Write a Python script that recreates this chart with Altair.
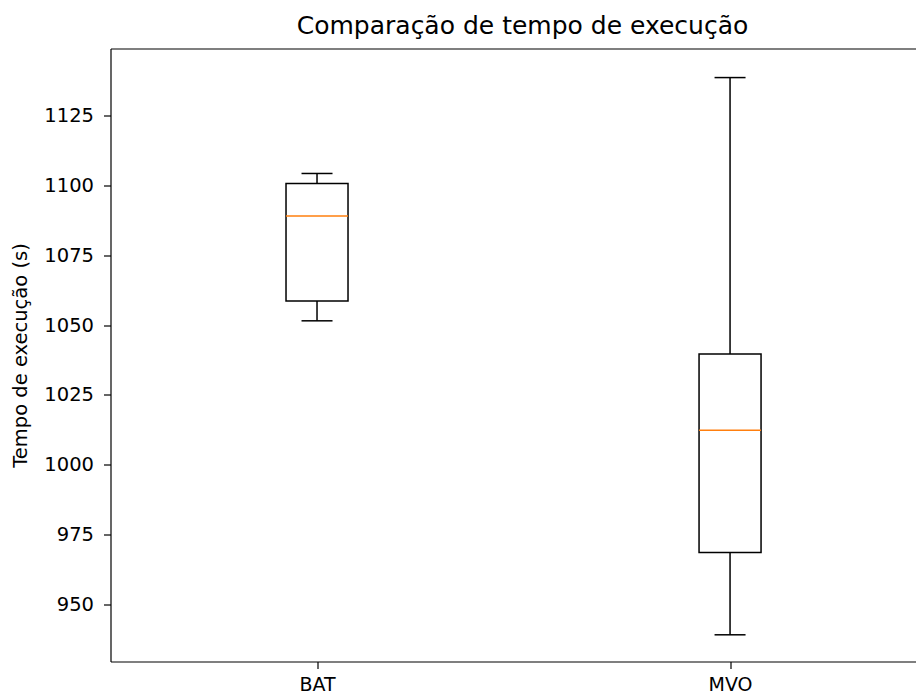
import json
import altair as alt
import pandas as pd

groups = ["BAT", "MVO"]
positions = [1, 2]
whisker_low = [1051.5, 939.2]
q1 = [1058.6, 968.6]
median = [1089.0, 1012.4]
q3 = [1100.6, 1039.6]
whisker_high = [1104.2, 1138.5]

y_ticks = [950, 975, 1000, 1025, 1050, 1075, 1100, 1125]
y_domain = [929.65, 1148.9]
x_domain = [0.5, 2.449]

df = pd.DataFrame({
    "group": groups, "pos": positions, "wlo": whisker_low, "q1": q1,
    "med": median, "q3": q3, "whi": whisker_high,
})

FONT = "DejaVu Sans"
label_expr = json.dumps(groups) + "[datum.value - 1]"

xscale = alt.Scale(domain=x_domain, nice=False, zero=False, padding=0)
x = alt.X("pos:Q", scale=xscale,
          axis=alt.Axis(values=positions, labelExpr=label_expr, title=None,
                        labelPadding=7, labelFontSize=19))
yscale = alt.Scale(domain=y_domain, nice=False, zero=False, padding=0)
yaxis = alt.Axis(values=y_ticks, format="d", title="Tempo de execução (s)", titleFontSize=19.5,
                 titleFont=FONT, titleFontWeight="normal", titleColor="#000",
                 titleAngle=-90, titleX=-84, titleY=306.5, titleBaseline="alphabetic",
                 titleAlign="center", labelPadding=10, labelFontSize=19.5)

base = alt.Chart(df)

# invisible layer that carries the top spine (matplotlib-style frame, right side off-canvas)
top_frame = base.mark_point(opacity=0).encode(
    x=alt.X("pos:Q", scale=xscale,
            axis=alt.Axis(orient="top", labels=False, ticks=False, title=None,
                          domain=True, values=positions)),
    y=alt.Y("med:Q", scale=yscale, axis=yaxis),
)
wh_low = base.mark_rule(color="#000", strokeWidth=1.5).encode(
    x=x, y=alt.Y("wlo:Q", scale=yscale, axis=yaxis), y2="q1:Q")
wh_high = base.mark_rule(color="#000", strokeWidth=1.5).encode(
    x=x, y=alt.Y("q3:Q", scale=yscale, axis=yaxis), y2="whi:Q")
box = base.mark_bar(size=62, fill="#fff", stroke="#000", strokeWidth=1.5).encode(
    x=x, y=alt.Y("q1:Q", scale=yscale, axis=yaxis), y2="q3:Q")
med = base.mark_tick(orient="horizontal", size=62, thickness=1.5, color="#ff7f0e", opacity=1).encode(
    x=x, y=alt.Y("med:Q", scale=yscale, axis=yaxis))
cap_lo = base.mark_tick(orient="horizontal", size=31, thickness=1.5, color="#000", opacity=1).encode(
    x=x, y=alt.Y("wlo:Q", scale=yscale, axis=yaxis))
cap_hi = base.mark_tick(orient="horizontal", size=31, thickness=1.5, color="#000", opacity=1).encode(
    x=x, y=alt.Y("whi:Q", scale=yscale, axis=yaxis))

plot = alt.layer(wh_low, wh_high, box, med, cap_lo, cap_hi)

chart = alt.layer(top_frame, plot).resolve_axis(x="independent").properties(
    width=805, height=613,
    background="#fff",
    title=alt.TitleParams("Comparação de tempo de execução", font=FONT, fontSize=25,
                          fontWeight="normal", color="#000", anchor="middle",
                          frame="group", baseline="alphabetic", offset=-10.5, dx=9.5),
    autosize=alt.AutoSizeParams(type="none"),
    padding={"left": 102.5, "top": 40.5, "right": 0, "bottom": 33},
).configure_view(stroke=None).configure_axis(
    grid=False, domain=True, domainColor="#000", domainWidth=1.2,
    labelFont=FONT, labelColor="#000",
    tickColor="#000", tickSize=7, tickWidth=1.2,
)

chart.save("out.html", embed_options={"renderer": "svg", "actions": False})
